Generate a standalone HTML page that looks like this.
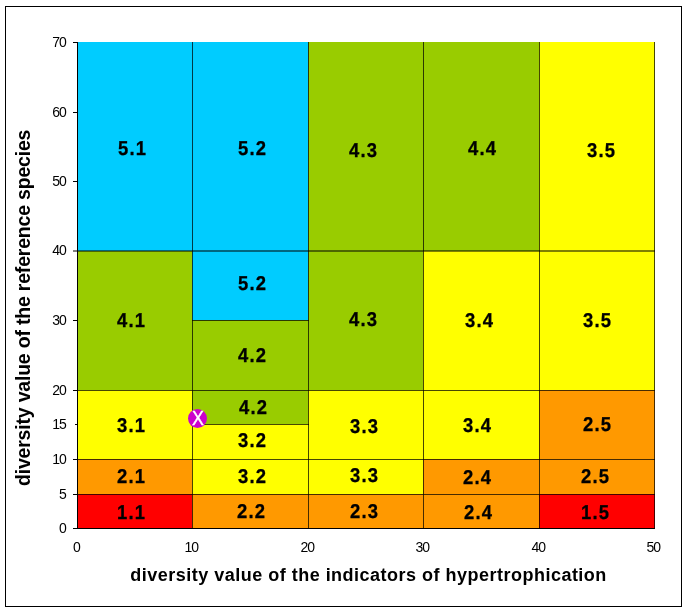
<!DOCTYPE html>
<html lang="en"><head><meta charset="utf-8"><title>Diversity value classification chart</title>
<style>
html,body{margin:0;padding:0;background:#fff;}
body{width:685px;height:614px;position:relative;overflow:hidden;font-family:"Liberation Sans",Arial,sans-serif;color:#000;}
.frame{position:absolute;left:5px;top:6px;width:675px;height:599px;border:1px solid #000;}
.cell{position:absolute;}
.hl,.vl{position:absolute;background:rgba(0,0,0,0.72);}
.h2{background:rgba(0,0,0,0.5);}
.ax{background:#000;}
.lbl{position:absolute;font-weight:bold;-webkit-text-stroke:0.3px #000;font-size:20px;line-height:24px;height:24px;white-space:nowrap;letter-spacing:1.35px;transform:rotate(0.03deg) scale(0.92,1.0);transform-origin:0 50%;}
.tk{position:absolute;font-size:14px;line-height:14px;height:14px;white-space:nowrap;letter-spacing:-1px;}
.ty{width:30px;text-align:right;}
.tx{width:40px;text-align:center;}
.xt{position:absolute;font-weight:bold;font-size:18px;line-height:22px;white-space:nowrap;letter-spacing:0.49px;}
.yt{position:absolute;font-weight:bold;font-size:19.5px;line-height:22px;white-space:nowrap;letter-spacing:-0.2px;transform-origin:0 0;transform:rotate(-90deg);}
.mk{position:absolute;border-radius:50%;background:#CC00CC;}
.mx{position:absolute;color:#fff;font-weight:normal;white-space:nowrap;}
</style></head><body>
<div class="frame"></div>

<div class="cell" style="left:77px;top:42px;width:116px;height:209px;background:#00CCFF"></div>
<div class="cell" style="left:192px;top:42px;width:117px;height:209px;background:#00CCFF"></div>
<div class="cell" style="left:308px;top:42px;width:116px;height:209px;background:#99CC00"></div>
<div class="cell" style="left:423px;top:42px;width:117px;height:209px;background:#99CC00"></div>
<div class="cell" style="left:539px;top:42px;width:116px;height:209px;background:#FFFF00"></div>
<div class="cell" style="left:77px;top:251px;width:116px;height:140px;background:#99CC00"></div>
<div class="cell" style="left:192px;top:251px;width:117px;height:70px;background:#00CCFF"></div>
<div class="cell" style="left:192px;top:320px;width:117px;height:71px;background:#99CC00"></div>
<div class="cell" style="left:308px;top:251px;width:116px;height:140px;background:#99CC00"></div>
<div class="cell" style="left:423px;top:251px;width:117px;height:140px;background:#FFFF00"></div>
<div class="cell" style="left:539px;top:251px;width:116px;height:140px;background:#FFFF00"></div>
<div class="cell" style="left:77px;top:390px;width:116px;height:70px;background:#FFFF00"></div>
<div class="cell" style="left:192px;top:390px;width:117px;height:35px;background:#99CC00"></div>
<div class="cell" style="left:192px;top:424px;width:117px;height:36px;background:#FFFF00"></div>
<div class="cell" style="left:308px;top:390px;width:116px;height:70px;background:#FFFF00"></div>
<div class="cell" style="left:423px;top:390px;width:117px;height:70px;background:#FFFF00"></div>
<div class="cell" style="left:539px;top:390px;width:116px;height:70px;background:#FF9900"></div>
<div class="cell" style="left:77px;top:459px;width:116px;height:36px;background:#FF9900"></div>
<div class="cell" style="left:192px;top:459px;width:117px;height:36px;background:#FFFF00"></div>
<div class="cell" style="left:308px;top:459px;width:116px;height:36px;background:#FFFF00"></div>
<div class="cell" style="left:423px;top:459px;width:117px;height:36px;background:#FF9900"></div>
<div class="cell" style="left:539px;top:459px;width:116px;height:36px;background:#FF9900"></div>
<div class="cell" style="left:77px;top:494px;width:116px;height:35px;background:#FF0000"></div>
<div class="cell" style="left:192px;top:494px;width:117px;height:35px;background:#FF9900"></div>
<div class="cell" style="left:308px;top:494px;width:116px;height:35px;background:#FF9900"></div>
<div class="cell" style="left:423px;top:494px;width:117px;height:35px;background:#FF9900"></div>
<div class="cell" style="left:539px;top:494px;width:116px;height:35px;background:#FF0000"></div>
<div class="vl ax" style="left:77px;top:42px;width:1px;height:487px"></div>
<div class="vl" style="left:192px;top:42px;width:1px;height:487px"></div>
<div class="vl" style="left:308px;top:42px;width:1px;height:487px"></div>
<div class="vl" style="left:423px;top:42px;width:1px;height:487px"></div>
<div class="vl" style="left:539px;top:42px;width:1px;height:487px"></div>
<div class="vl" style="left:654px;top:42px;width:1px;height:487px"></div>
<div class="hl h2" style="left:77px;top:250px;width:578px;height:2px"></div>
<div class="hl" style="left:192px;top:320px;width:117px;height:1px"></div>
<div class="hl" style="left:77px;top:390px;width:578px;height:1px"></div>
<div class="hl" style="left:192px;top:424px;width:117px;height:1px"></div>
<div class="hl" style="left:77px;top:459px;width:578px;height:1px"></div>
<div class="hl" style="left:77px;top:494px;width:578px;height:1px"></div>
<div class="hl ax" style="left:77px;top:528px;width:578px;height:1px"></div>
<div class="hl ax" style="left:73px;top:528px;width:4px;height:1px"></div>
<div class="tk ty" style="left:35.9px;top:520.5px">0</div>
<div class="hl ax" style="left:73px;top:494px;width:4px;height:1px"></div>
<div class="tk ty" style="left:35.9px;top:486.5px">5</div>
<div class="hl ax" style="left:73px;top:459px;width:4px;height:1px"></div>
<div class="tk ty" style="left:35.9px;top:451.5px">10</div>
<div class="hl ax" style="left:75px;top:424px;width:2px;height:1px"></div>
<div class="tk ty" style="left:35.9px;top:416.5px">15</div>
<div class="hl ax" style="left:73px;top:390px;width:4px;height:1px"></div>
<div class="tk ty" style="left:35.9px;top:382.5px">20</div>
<div class="hl ax" style="left:73px;top:320px;width:4px;height:1px"></div>
<div class="tk ty" style="left:35.9px;top:312.5px">30</div>
<div class="hl h2" style="left:73px;top:250px;width:4px;height:2px"></div>
<div class="tk ty" style="left:35.9px;top:242.5px">40</div>
<div class="hl ax" style="left:73px;top:181px;width:4px;height:1px"></div>
<div class="tk ty" style="left:35.9px;top:173.5px">50</div>
<div class="hl ax" style="left:73px;top:112px;width:4px;height:1px"></div>
<div class="tk ty" style="left:35.9px;top:104.5px">60</div>
<div class="hl ax" style="left:73px;top:42px;width:4px;height:1px"></div>
<div class="tk ty" style="left:35.9px;top:34.5px">70</div>
<div class="tk tx" style="left:56.3px;top:540px">0</div>
<div class="tk tx" style="left:171.3px;top:540px">10</div>
<div class="tk tx" style="left:287.3px;top:540px">20</div>
<div class="tk tx" style="left:402.3px;top:540px">30</div>
<div class="tk tx" style="left:518.3px;top:540px">40</div>
<div class="tk tx" style="left:633.3px;top:540px">50</div>
<div class="lbl" style="left:118.2px;top:136.2px">5.1</div>
<div class="lbl" style="left:237.6px;top:136.3px">5.2</div>
<div class="lbl" style="left:349.0px;top:138.2px">4.3</div>
<div class="lbl" style="left:468.0px;top:135.5px">4.4</div>
<div class="lbl" style="left:587.1px;top:138.3px">3.5</div>
<div class="lbl" style="left:116.9px;top:307.6px">4.1</div>
<div class="lbl" style="left:237.8px;top:270.5px">5.2</div>
<div class="lbl" style="left:237.7px;top:342.7px">4.2</div>
<div class="lbl" style="left:349.2px;top:307.4px">4.3</div>
<div class="lbl" style="left:464.5px;top:307.8px">3.4</div>
<div class="lbl" style="left:582.8px;top:308.2px">3.5</div>
<div class="lbl" style="left:116.9px;top:413.2px">3.1</div>
<div class="lbl" style="left:239.0px;top:395.4px">4.2</div>
<div class="lbl" style="left:237.5px;top:428.1px">3.2</div>
<div class="lbl" style="left:350.1px;top:413.7px">3.3</div>
<div class="lbl" style="left:463.0px;top:413.2px">3.4</div>
<div class="lbl" style="left:582.6px;top:412.4px">2.5</div>
<div class="lbl" style="left:116.5px;top:463.6px">2.1</div>
<div class="lbl" style="left:237.9px;top:463.6px">3.2</div>
<div class="lbl" style="left:350.1px;top:462.6px">3.3</div>
<div class="lbl" style="left:462.9px;top:464.6px">2.4</div>
<div class="lbl" style="left:580.5px;top:464.3px">2.5</div>
<div class="lbl" style="left:117.0px;top:499.6px">1.1</div>
<div class="lbl" style="left:236.6px;top:498.6px">2.2</div>
<div class="lbl" style="left:350.1px;top:498.7px">2.3</div>
<div class="lbl" style="left:464.4px;top:499.6px">2.4</div>
<div class="lbl" style="left:580.6px;top:499.8px">1.5</div>
<div class="mk" style="left:188.0px;top:408.6px;width:19.3px;height:19.3px"></div>
<div class="mx" style="left:192.0px;top:406.3px;font-size:20.5px;line-height:24px;transform:scaleX(0.87);transform-origin:0 0;-webkit-text-stroke:0.4px #fff">X</div>
<div class="xt" style="left:130.3px;top:564px">diversity value of the indicators of hypertrophication</div>
<div class="yt" style="left:12px;top:486.3px">diversity value of the reference species</div>
</body></html>
